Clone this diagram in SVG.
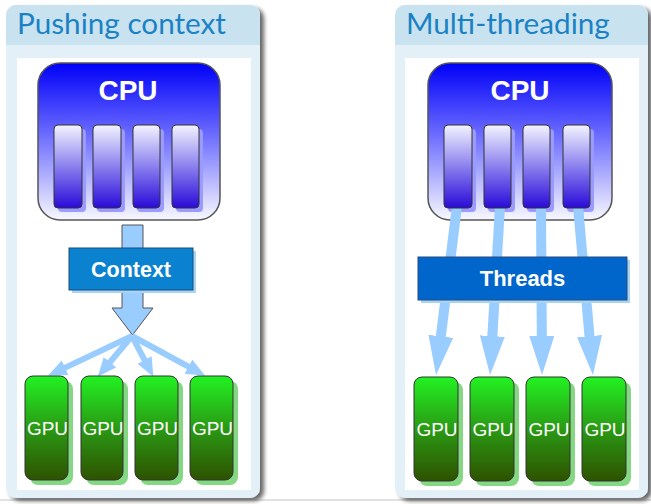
<svg xmlns="http://www.w3.org/2000/svg" width="651" height="504" viewBox="0 0 651 504">
<defs>
<style>
.title{font-family:Lato,"Open Sans",sans-serif;font-size:29.7px;fill:#1a82c4}
.cpu{font-family:"Liberation Sans",Arial,sans-serif;font-weight:bold;font-size:28px;fill:#fff;text-anchor:middle}
.gpu{font-family:"Liberation Sans",Arial,sans-serif;font-size:19px;fill:#fff;text-anchor:middle}
.box{font-family:"Liberation Sans",Arial,sans-serif;font-weight:bold;font-size:21.5px;fill:#fff;text-anchor:middle}
.cpubox{fill:url(#gCpu);stroke:#555;stroke-width:1.5}
.core{fill:url(#gCore);stroke:#333;stroke-width:1}
.coresh{fill:#9a9aff}
.gpubox{fill:url(#gGpu);stroke:#333;stroke-width:1}
.gpush{fill:#84d884}
.thin{stroke:#99ccff;stroke-width:6;fill:none;marker-end:url(#hSmall)}
.thick{stroke:#99ccff;stroke-width:10;fill:none;marker-end:url(#hBig)}
</style>
<linearGradient id="gCpu" x1="0" y1="0" x2="0" y2="1">
<stop offset="0" stop-color="#0000f8"/>
<stop offset="0.45" stop-color="#6a6aff"/>
<stop offset="1" stop-color="#f8f8ff"/>
</linearGradient>
<linearGradient id="gCore" x1="0" y1="0" x2="0" y2="1">
<stop offset="0" stop-color="#f4f4ff"/>
<stop offset="0.5" stop-color="#8a80ee"/>
<stop offset="1" stop-color="#2a0ad8"/>
</linearGradient>
<linearGradient id="gGpu" x1="0" y1="0" x2="0" y2="1">
<stop offset="0" stop-color="#22f222"/>
<stop offset="0.5" stop-color="#2a9a14"/>
<stop offset="1" stop-color="#2e5200"/>
</linearGradient>
<filter id="sh" x="-10%" y="-10%" width="130%" height="130%">
<feGaussianBlur in="SourceAlpha" stdDeviation="2"/>
<feOffset dx="4" dy="3"/>
<feComponentTransfer><feFuncA type="linear" slope="0.6"/></feComponentTransfer>
<feMerge><feMergeNode/><feMergeNode in="SourceGraphic"/></feMerge>
</filter>
<marker id="hSmall" markerUnits="userSpaceOnUse" markerWidth="20" markerHeight="18" refX="1" refY="8" orient="auto">
<path d="M0,0 L19,8 L0,16 z" fill="#99ccff"/>
</marker>
<marker id="hBig" markerUnits="userSpaceOnUse" markerWidth="40" markerHeight="26" refX="1" refY="12.5" orient="auto">
<path d="M0,0 L39,12.5 L0,25 z" fill="#99ccff"/>
</marker>
</defs>
<line x1="0" y1="500" x2="651" y2="500" stroke="#c4c4c4" stroke-width="1"/>

<!-- Left panel -->
<g id="panel-left">
<g filter="url(#sh)">
<rect x="6" y="5" width="254" height="493" rx="10" fill="#e3f0f8"/>
</g>
<path d="M16,5 H250 A10,10 0 0 1 260,15 V45 H6 V15 A10,10 0 0 1 16,5 z" fill="#c9e2f0"/>
<rect x="17" y="58" width="234" height="432" fill="#ffffff"/>
<text class="title" x="17" y="34">Pushing context</text>
</g>

<g id="cpu-left">
<rect class="cpubox" x="38" y="63" width="182" height="157" rx="22"/>
<text class="cpu" x="128" y="100">CPU</text>
<rect class="coresh" x="58" y="129" width="28" height="83" rx="4"/>
<rect class="coresh" x="97" y="129" width="28" height="83" rx="4"/>
<rect class="coresh" x="137" y="129" width="27" height="83" rx="4"/>
<rect class="coresh" x="176" y="129" width="27" height="83" rx="4"/>
<rect class="core" x="54" y="125" width="28" height="83" rx="4"/>
<rect class="core" x="93" y="125" width="28" height="83" rx="4"/>
<rect class="core" x="133" y="125" width="27" height="83" rx="4"/>
<rect class="core" x="172" y="125" width="27" height="83" rx="4"/>
</g>

<g id="connectors-left">
<polygon points="122,225 143,225 143,308 153,308 132.5,335 112,308 122,308" fill="#99ccff" stroke="#555" stroke-width="1"/>
<line class="thin" x1="132" y1="336" x2="64.2" y2="368.1"/>
<line class="thin" x1="132" y1="336" x2="109.3" y2="363"/>
<line class="thin" x1="132" y1="336" x2="145" y2="360.9"/>
<line class="thin" x1="132" y1="336" x2="189.3" y2="367.2"/>
</g>

<g id="context">
<rect x="72" y="251" width="124" height="42" fill="#a8d4f4"/>
<rect x="69" y="248" width="124" height="42" fill="#0a82d0" stroke="#1a4a7a" stroke-width="1"/>
<text class="box" x="131" y="277">Context</text>
</g>

<g id="gpus-left">
<rect class="gpush" x="30" y="381" width="43" height="104" rx="8"/>
<rect class="gpush" x="86" y="381" width="42" height="104" rx="8"/>
<rect class="gpush" x="140" y="381" width="43" height="104" rx="8"/>
<rect class="gpush" x="195" y="381" width="43" height="104" rx="8"/>
<rect class="gpubox" x="25" y="376" width="43" height="104" rx="8"/>
<rect class="gpubox" x="81" y="376" width="42" height="104" rx="8"/>
<rect class="gpubox" x="135" y="376" width="43" height="104" rx="8"/>
<rect class="gpubox" x="190" y="376" width="43" height="104" rx="8"/>
<text class="gpu" x="47.5" y="435">GPU</text>
<text class="gpu" x="103" y="435">GPU</text>
<text class="gpu" x="157.5" y="435">GPU</text>
<text class="gpu" x="212.5" y="435">GPU</text>
</g>

<!-- Right panel -->
<g id="panel-right">
<g filter="url(#sh)">
<rect x="395" y="5" width="253" height="493" rx="10" fill="#e3f0f8"/>
</g>
<path d="M405,5 H638 A10,10 0 0 1 648,15 V45 H395 V15 A10,10 0 0 1 405,5 z" fill="#c9e2f0"/>
<rect x="405" y="58" width="234" height="432" fill="#ffffff"/>
<text class="title" x="406" y="34">Multi-threading</text>
</g>

<g id="cpu-right">
<rect class="cpubox" x="428" y="63" width="184" height="157" rx="22"/>
<text class="cpu" x="520" y="100">CPU</text>
<rect class="coresh" x="448" y="129" width="28" height="83" rx="4"/>
<rect class="coresh" x="488" y="129" width="27" height="83" rx="4"/>
<rect class="coresh" x="527" y="129" width="27" height="83" rx="4"/>
<rect class="coresh" x="567" y="129" width="27" height="83" rx="4"/>
</g>

<g id="connectors-right">
<line class="thick" x1="457" y1="206" x2="440.7" y2="337.3"/>
<line class="thick" x1="500" y1="206" x2="492.3" y2="337.1"/>
<line class="thick" x1="541" y1="206" x2="541.8" y2="337"/>
<line class="thick" x1="578" y1="206" x2="589.6" y2="337.2"/>
</g>

<g id="cores-right">
<rect class="core" x="444" y="125" width="28" height="83" rx="4"/>
<rect class="core" x="484" y="125" width="27" height="83" rx="4"/>
<rect class="core" x="523" y="125" width="27" height="83" rx="4"/>
<rect class="core" x="563" y="125" width="27" height="83" rx="4"/>
</g>

<g id="threads">
<rect x="421" y="260" width="209" height="43" fill="#a8d4f4"/>
<rect x="418" y="257" width="209" height="43" fill="#0066cc" stroke="#2a4a7a" stroke-width="1"/>
<text class="box" x="522.5" y="286" style="font-size:22px">Threads</text>
</g>

<g id="gpus-right">
<rect class="gpush" x="419" y="382" width="44" height="104" rx="8"/>
<rect class="gpush" x="475" y="382" width="44" height="104" rx="8"/>
<rect class="gpush" x="531" y="382" width="44" height="104" rx="8"/>
<rect class="gpush" x="587" y="382" width="44" height="104" rx="8"/>
<rect class="gpubox" x="414" y="377" width="44" height="104" rx="8"/>
<rect class="gpubox" x="470" y="377" width="44" height="104" rx="8"/>
<rect class="gpubox" x="526" y="377" width="44" height="104" rx="8"/>
<rect class="gpubox" x="582" y="377" width="44" height="104" rx="8"/>
<text class="gpu" x="437" y="436">GPU</text>
<text class="gpu" x="493" y="436">GPU</text>
<text class="gpu" x="549" y="436">GPU</text>
<text class="gpu" x="605" y="436">GPU</text>
</g>
</svg>
